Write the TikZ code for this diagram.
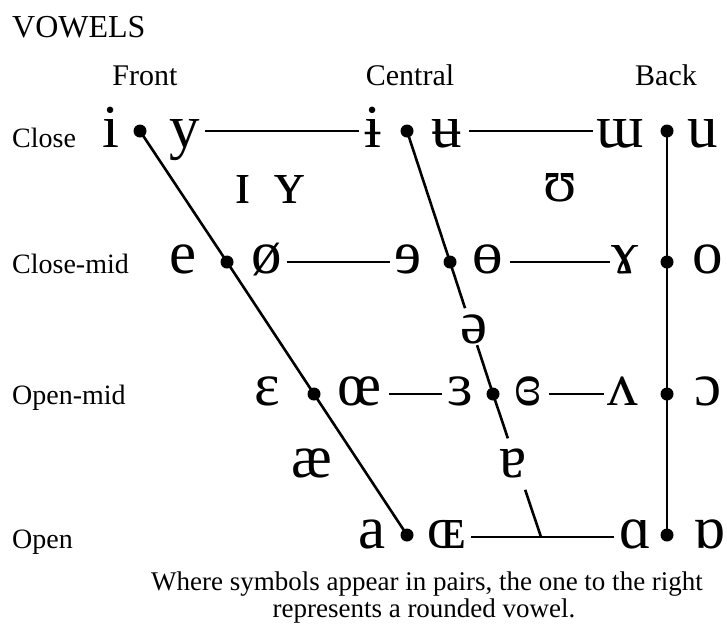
\documentclass[tikz,border=0pt]{standalone}
\usepackage{fontspec}
\setmainfont{Liberation Serif}
\usetikzlibrary{calc}
\tikzset{
  ipa/.style={font=\fontsize{61}{61}\selectfont, anchor=base, inner sep=0pt},
  lab/.style={font=\fontsize{28}{28}\selectfont, anchor=base west, inner sep=0pt},
  head/.style={font=\fontsize{30}{30}\selectfont, anchor=base, inner sep=0pt},
  captxt/.style={font=\fontsize{27}{27}\selectfont, anchor=base, inner sep=0pt},
  vdot/.style={circle, fill=black, inner sep=0pt, minimum size=13pt},
  trap/.style={line width=2.6pt},
  hline/.style={line width=1.7pt},
}
\begin{document}
\begin{tikzpicture}[x=1pt,y=-1pt]
\useasboundingbox (0,0) rectangle (727,630);
% titles
\node[lab, font=\fontsize{32}{32}\selectfont] (title) at (12,37) {VOWELS};
\node[head] (hfront) at (145,85) {Front};
\node[head] (hcentral) at (410,85) {Central};
\node[head] (hback) at (666,85) {Back};
\node[lab] (lclose) at (12,147) {Close};
\node[lab] (lclosemid) at (12,273) {Close-mid};
\node[lab] (lopenmid) at (12,404) {Open-mid};
\node[lab] (lopen) at (12,548) {Open};
% dots
\node[vdot] (f1) at (140,131) {};
\node[vdot] (f2) at (227,262) {};
\node[vdot] (f3) at (314,394) {};
\node[vdot] (f4) at (407,535) {};
\node[vdot] (c1) at (407,131) {};
\node[vdot] (c2) at (450,262) {};
\node[vdot] (c3) at (493,394) {};
\coordinate (c4) at (541,537);
\node[vdot] (b1) at (667,131) {};
\node[vdot] (b2) at (667,262) {};
\node[vdot] (b3) at (667,394) {};
\node[vdot] (b4) at (667,535) {};
% symbols: close
\node[ipa] (si) at (111,147) {i};
\node[ipa] (sy) at (185,147) {y};
\node[ipa] (sibar) at (373,147) {ɨ};
\node[ipa] (subar) at (447,147) {ʉ};
\node[ipa] (sturnm) at (620,147) {ɯ};
\node[ipa] (su) at (703,147) {u};
\node[ipa] (ssmi) at (243,203) {ɪ};
\node[ipa] (ssmy) at (290,203) {ʏ};
\node[ipa] (supsilon) at (560,201) {ʊ};
% close-mid
\node[ipa] (se) at (183,273) {e};
\node[ipa] (soslash) at (267,273) {ø};
\node[ipa] (srevE) at (408,273) {ɘ};
\node[ipa] (sbaro) at (488,273) {ɵ};
\node[ipa] (sramshorn) at (625,273) {ɤ};
\node[ipa] (so) at (708,273) {o};
\node[ipa] (sschwa) at (474,343) {ə};
% open-mid
\node[ipa] (seps) at (267,405) {ɛ};
\node[ipa] (soe) at (360,405) {œ};
\node[ipa] (srevEps) at (460,405) {ɜ};
\node[ipa] (sclrevEps) at (528,405) {ɞ};
\node[ipa] (sturnv) at (623,405) {ʌ};
\node[ipa] (sopeno) at (708,405) {ɔ};
\node[ipa] (sae) at (312,477) {æ};
\node[ipa] (sturna) at (513,477) {ɐ};
% open
\node[ipa] (sa) at (372,548) {a};
\node[ipa] (ssmoe) at (447,548) {ɶ};
\node[ipa] (salpha) at (635,548) {ɑ};
\node[ipa] (sturnalpha) at (709,548) {ɒ};
% trapezium lines
\draw[trap] (f1.center) -- (f2.center) -- (f3.center) -- (f4.center);
\draw[trap] (c1.center) -- (c2.center) -- ($(c2.center)!0.35!(c3.center)$);
\draw[trap] ($(c2.center)!0.63!(c3.center)$) -- (c3.center) -- ($(c3.center)!0.31!(c4)$);
\draw[trap] ($(c3.center)!0.67!(c4)$) -- (c4);
\draw[trap] (b1.center) -- (b4.center);
% horizontal lines
\draw[hline] ($(sy.east|-f1)+(5,0)$) -- ($(sibar.west|-f1)+(-5,0)$);
\draw[hline] ($(subar.east|-f1)+(7,0)$) -- ($(sturnm.west|-f1)+(-3,0)$);
\draw[hline] ($(soslash.east|-f2)+(5,0)$) -- ($(srevE.west|-f2)+(-4,0)$);
\draw[hline] ($(sbaro.east|-f2)+(7,0)$) -- ($(sramshorn.west|-f2)+(-1,0)$);
\draw[hline] ($(soe.east|-f3)+(7,0)$) -- ($(srevEps.west|-f3)+(-5,0)$);
\draw[hline] ($(sclrevEps.east|-f3)+(7,0)$) -- ($(sturnv.west|-f3)+(-4,0)$);
\draw[hline] ($(ssmoe.east|-c4)+(5,0)$) -- ($(salpha.west|-c4)+(-5,0)$);
% caption
\node[captxt] (cap1) at (427,590) {Where symbols appear in pairs, the one to the right};
\node[captxt] (cap2) at (424,617) {represents a rounded vowel.};
\end{tikzpicture}
\end{document}
